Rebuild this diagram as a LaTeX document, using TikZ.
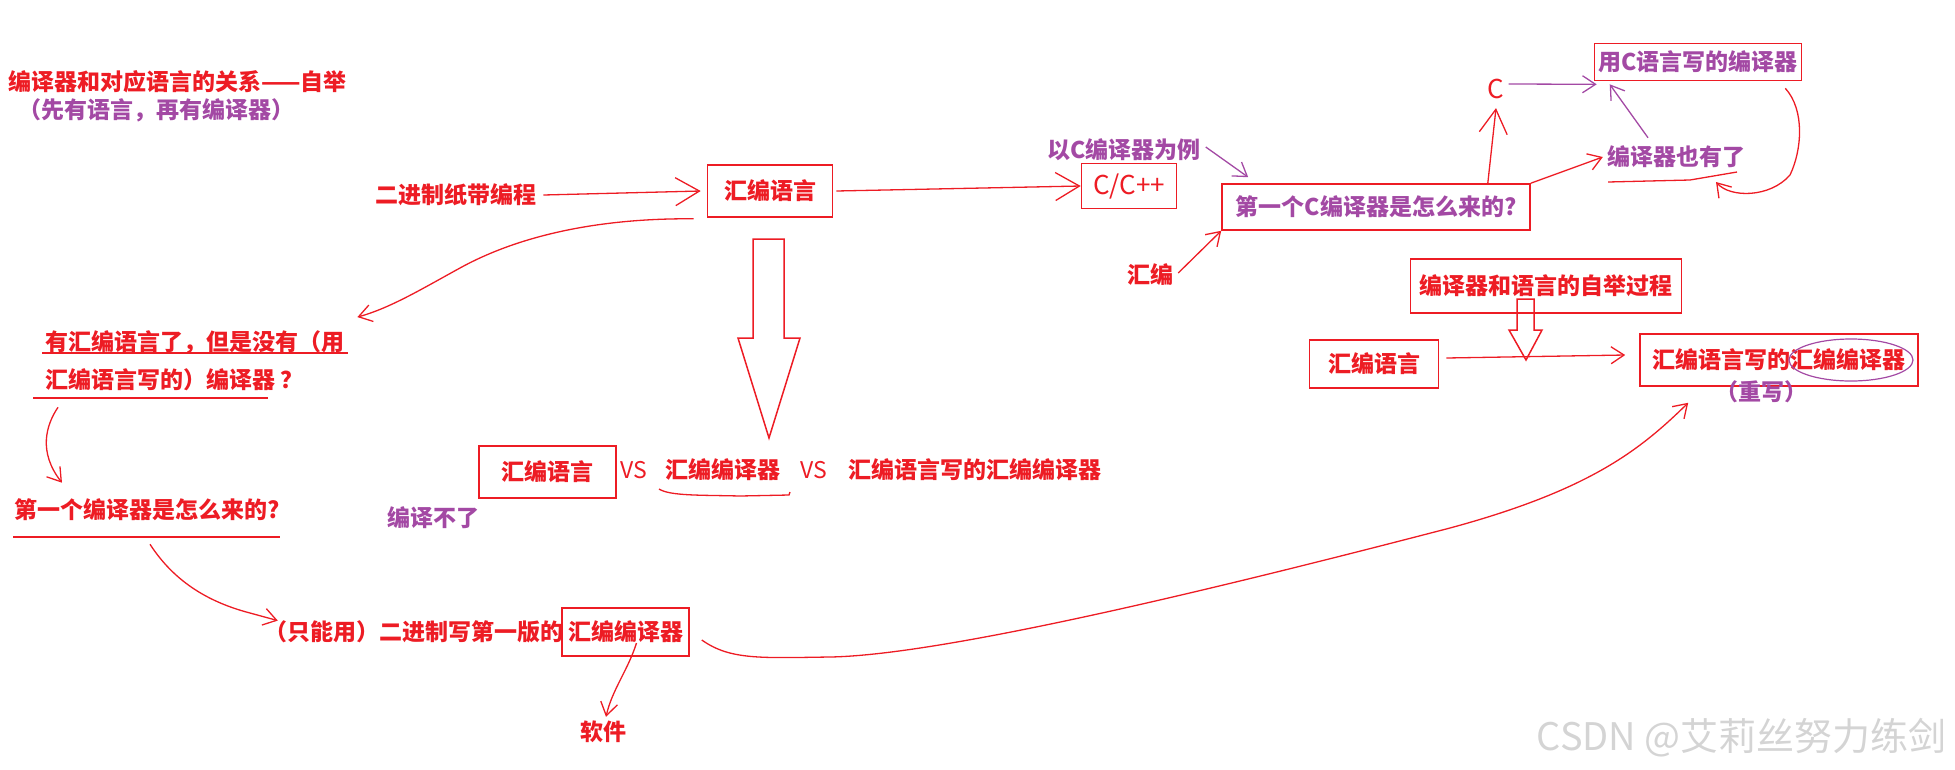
\documentclass[tikz,border=0pt]{standalone}
\usepackage{fontspec}
\setmainfont{Noto Sans CJK SC}
\usetikzlibrary{arrows.meta,positioning}
\definecolor{pred}{RGB}{237,28,36}
\definecolor{ppurple}{RGB}{163,73,164}
\definecolor{wmgray}{RGB}{212,212,212}
\begin{document}
\begin{tikzpicture}[x=1pt,y=-1pt,
    every node/.style={inner sep=0pt,font=\fontsize{23}{28}\selectfont\bfseries},
    redtxt/.style={text=pred},
    purtxt/.style={text=ppurple},
    thin/.style={font=\fontsize{23}{28}\selectfont\mdseries},
    bigthin/.style={font=\fontsize{26}{30}\selectfont\mdseries},
    box/.style={draw=pred,line width=1.6pt,text=pred},
    pen/.style={draw=pred,line width=1.3pt},
    ppen/.style={draw=ppurple,line width=1.3pt},
    arr/.style={-{Straight Barb[length=13pt,width=17pt]}},
    bigarr/.style={-{Straight Barb[length=24pt,width=28pt]}}]
  \useasboundingbox (0,0) rectangle (1955,769);

  % left column
  \node[redtxt,anchor=west] (title) at (8,82) {编译器和对应语言的关系——自举};
  \node[purtxt,anchor=west] (note) at (18,110) {（先有语言，再有编译器）};
  \node[redtxt,anchor=west] (tape) at (375,195) {二进制纸带编程};
  \node[box,minimum width=125,minimum height=52] (asm) at (770,191) {汇编语言};
  \node[redtxt,anchor=west] (q1) at (45,342) {有汇编语言了，但是没有（用};
  \node[redtxt,anchor=west] (q2) at (45,380) {汇编语言写的）编译器 ？};
  \node[redtxt,anchor=west] (q3) at (14,510) {第一个编译器是怎么来的?};
  \node[box,minimum width=127,minimum height=48] (v1) at (625.5,632) {汇编编译器};
  \node[redtxt,left=-2pt of v1] (only) {（只能用）二进制写第一版的};
  \node[redtxt] (soft) at (603,732) {软件};

  % middle row
  \node[box,minimum width=137,minimum height=52] (asm3) at (547.5,472) {汇编语言};
  \node[redtxt,thin] (vs1) at (634,470) {VS};
  \node[redtxt] (asmc) at (723,470) {汇编编译器};
  \node[redtxt,thin] (vs2) at (814,470) {VS};
  \node[redtxt] (selfc) at (975,470) {汇编语言写的汇编编译器};
  \node[purtxt] (cant) at (433,518) {编译不了};

  % C part
  \node[box,bigthin,minimum width=95,minimum height=45] (cpp) at (1129,186) {C/C+{}+};
  \node[purtxt,anchor=west] (eg) at (1047,150) {以C编译器为例};
  \node[box,text=ppurple,minimum width=308,minimum height=46] (firstc) at (1376,207) {第一个C编译器是怎么来的?};
  \node[redtxt] (hb) at (1150,275) {汇编};
  \node[redtxt,bigthin] (c) at (1496,89) {C};
  \node[box,text=ppurple,minimum width=207,minimum height=37] (cwritten) at (1698,62) {用C语言写的编译器};
  \node[purtxt] (alsohave) at (1676,157) {编译器也有了};

  % bootstrap part
  \node[box,minimum width=271,minimum height=54] (boot) at (1546,286) {编译器和语言的自举过程};
  \node[box,minimum width=129,minimum height=48] (asm2) at (1374,364) {汇编语言};
  \node[box,minimum width=278,minimum height=52] (self) at (1779,360) {汇编语言写的汇编编译器};
  \node[purtxt] (rewrite) at (1761,392) {（重写）};

  \node[anchor=east,text=wmgray,font=\fontsize{38}{40}\selectfont\mdseries] (wm) at (1947,738) {CSDN @艾莉丝努力练剑};

  % block arrows
  \draw[pred,line width=1.5pt] (753,239) -- (784,239) -- (784,338) -- (800,338) -- (769,438)
    -- (738,338) -- (753,338) -- cycle;
  \draw[pred,line width=1.5pt] (1517,299) -- (1534,299) -- (1534,330) -- (1542,330) -- (1526,360)
    -- (1509,330) -- (1517,330) -- cycle;

  % connectors
  \draw[pen,bigarr] ([xshift=7pt]tape.east) -- ([xshift=-6pt]asm.west);
  \draw[pen,bigarr] ([xshift=3pt]asm.east) -- (cpp.west);
  \draw[ppen,arr] ([xshift=5pt,yshift=3pt]eg.east) -- ([xshift=27pt,yshift=6pt]firstc.north west);
  \draw[pen,arr] ([xshift=5pt,yshift=2pt]hb.east) -- (firstc.south west);
  \draw[pen,bigarr] ([xshift=-43pt]firstc.north east) -- ([yshift=-9pt]c.south);
  \draw[ppen,arr] ([xshift=4pt,yshift=5pt]c.east) -- ([xshift=3pt,yshift=-3pt]cwritten.south west);
  \draw[pen,arr] (firstc.north east) -- ([xshift=-4pt]alsohave.west);
  \draw[ppen,arr] ([xshift=-28pt,yshift=8pt]alsohave.north) -- ([xshift=16pt,yshift=-3pt]cwritten.south west);
  \draw[pen,arr] ([xshift=-17pt,yshift=-7pt]cwritten.south east) .. controls (1805,110) and (1802,150) .. (1790,175)
    .. controls (1770,198) and (1730,198) .. (1716,182);
  \draw[pen] (1608,182) -- (1690,180) -- (1737,172);
  \draw[pen,arr] ([xshift=7pt,yshift=6pt]asm2.east) -- ([xshift=-14pt,yshift=5pt]self.west);
  \draw[ppen,line width=1.2pt] (1851,360) ellipse [x radius=62,y radius=21];

  \draw[pen,arr] ([xshift=-13pt,yshift=-1pt]asm.south west) .. controls (600,218) and (520,235) .. (460,268)
    .. controls (420,290) and (390,308) .. ([xshift=13pt,yshift=13pt]q1.north east);
  \draw[pen] (42,353) -- (348,353);
  \draw[pen] (33,398) -- (268,398);
  \draw[pen,arr] ([xshift=13pt,yshift=-16pt]q2.south west) .. controls (46,425) and (38,452) .. ([xshift=48pt,yshift=16pt]q3.north west);
  \draw[pen] (13,537) -- (280,537);
  \draw[pen,arr] ([xshift=136pt,yshift=-23pt]q3.south west) .. controls (170,575) and (200,600) .. (250,613)
    -- ([xshift=14pt]only.north west);
  \draw[pen,arr] ([xshift=11pt,yshift=-11pt]v1.center) .. controls (628,670) and (612,690) .. ([xshift=3pt,yshift=4pt]soft.north);
  \draw[pen] (659,489) .. controls (670,496) and (700,495) .. (740,496) -- (789,495) -- (790,492);
  \draw[pen,arr] ([xshift=12pt,yshift=-8pt]v1.east) .. controls (730,660) and (760,658) .. (830,657)
    .. controls (950,655) and (1250,580) .. (1450,528)
    .. controls (1590,490) and (1640,450) .. ([xshift=49pt,yshift=-16pt]self.south west);
\end{tikzpicture}
\end{document}
